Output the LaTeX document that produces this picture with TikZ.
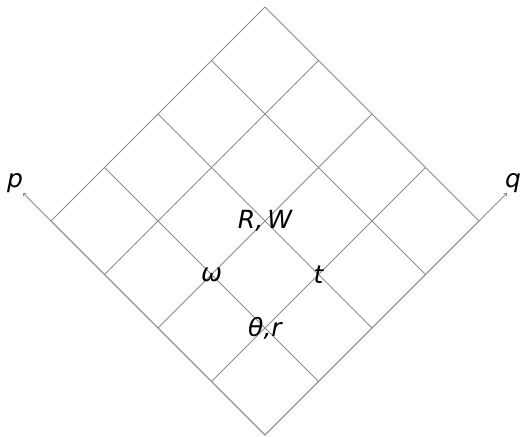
\documentclass[tikz,border=0pt]{standalone}
\usepackage{fontspec}
\setmainfont{DejaVu Sans}
\usetikzlibrary{calc}
\begin{document}
\begin{tikzpicture}[x=1pt,y=-1pt,
  gridline/.style={draw=black!45, line width=0.8pt},
  axis/.style={draw=black!45, line width=0.8pt, ->, >=to},
  lbl/.style={font=\fontsize{25}{29}\selectfont\itshape, inner sep=0pt}]
  \useasboundingbox (0,0) rectangle (524,436);
  % bottom vertex and cell steps along the two axes
  \coordinate (B) at (265,435);
  \def\cs{53.5}
  % grid lines parallel to each axis
  \foreach \i in {0,...,4}{
    \draw[gridline] ($(B)+(\i*\cs,-\i*\cs)$) -- ++(-4*\cs,-4*\cs);
    \draw[gridline] ($(B)+(-\i*\cs,-\i*\cs)$) -- ++(4*\cs,-4*\cs);
  }
  % axes
  \coordinate (P) at ($(B)+(-4.52*\cs,-4.52*\cs)$);
  \coordinate (Q) at ($(B)+(4.52*\cs,-4.52*\cs)$);
  \draw[axis] (B) -- (P);
  \draw[axis] (B) -- (Q);
  \node[lbl] (p) at (15,183) {p};
  \node[lbl] (q) at (513,183) {q};
  % vertex labels
  \node[lbl] (RW) at ($(B)+(0,-4*\cs)$) {R,\,W};
  \node[lbl] (om) at ($(B)+(-\cs,-3*\cs)$) {ω};
  \node[lbl] (t) at ($(B)+(\cs,-3*\cs)$) {t};
  \node[lbl] (th) at ($(B)+(0,-2*\cs)$) {θ,r};
\end{tikzpicture}
\end{document}
